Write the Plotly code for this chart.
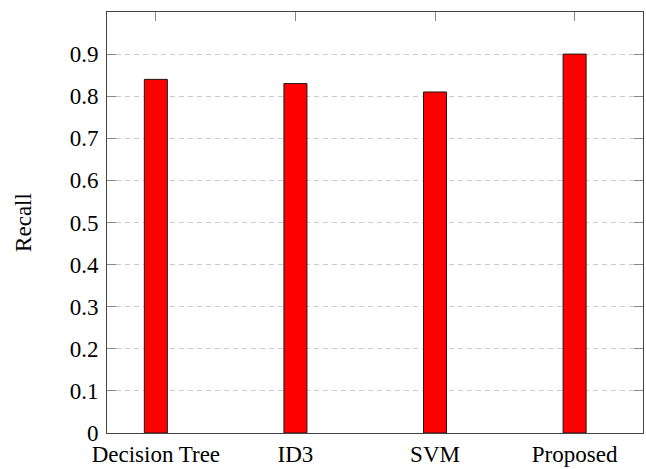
import plotly.graph_objects as go

categories = ["Decision Tree", "ID3", "SVM", "Proposed"]
recall = [0.84, 0.83, 0.81, 0.90]
y_ticks = [0, 0.1, 0.2, 0.3, 0.4, 0.5, 0.6, 0.7, 0.8, 0.9]
y_tick_labels = ["0", "0.1", "0.2", "0.3", "0.4", "0.5", "0.6", "0.7", "0.8", "0.9"]

FONT = "Liberation Serif"
FS = 23

fig = go.Figure()
fig.add_trace(go.Bar(
    x=categories, y=recall, width=0.165,
    marker=dict(color="#ff0000", line=dict(color="#1a1a1a", width=1)),
))

fig.update_layout(
    width=646, height=469,
    margin=dict(l=107, r=2, t=12, b=27),
    paper_bgcolor="white", plot_bgcolor="white",
    font=dict(family=FONT, size=FS, color="black"),
    showlegend=False,
    xaxis=dict(
        type="category", range=[-0.35, 3.49],
        showline=True, linecolor="#444", linewidth=1, mirror="allticks",
        ticks="inside", ticklen=9, tickcolor="#888",
        showgrid=False, tickfont=dict(family=FONT, size=FS), layer="below traces",
        ticklabelstandoff=0,
    ),
    yaxis=dict(
        range=[0, 1.0], tickvals=y_ticks, ticktext=y_tick_labels,
        showline=True, linecolor="#444", linewidth=1, mirror="allticks",
        ticks="inside", ticklen=9, tickcolor="#888",
        showgrid=True, gridcolor="#cccccc", griddash="5px,4px", gridwidth=1,
        zeroline=False, tickfont=dict(family=FONT, size=FS),
        ticklabelstandoff=3,
        title=dict(text="Recall", font=dict(family=FONT, size=FS), standoff=31),
    ),
)

fig.write_html("out.html")
